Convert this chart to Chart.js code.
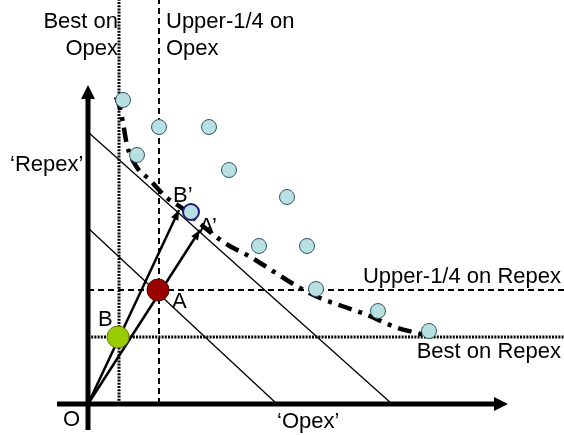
<!DOCTYPE html>
<html>
<head>
<meta charset="utf-8">
<script src="https://cdn.jsdelivr.net/npm/chart.js@4/dist/chart.umd.min.js"></script>
<style>
  html, body { margin: 0; padding: 0; background: #fff; }
  canvas { display: block; }
</style>
</head>
<body>
<canvas id="chart" width="564" height="435"></canvas>
<script>
// peer companies (opex, repex)
const peerOpex  = [35, 71, 121, 49, 141, 199, 171, 219, 228, 290, 341];
const peerRepex = [304, 277, 277, 249, 234, 207, 158, 158, 115, 93, 73];

// efficiency frontier (dash-dot curve)
const frontierOpex  = [28, 32, 35, 39, 48, 62, 78, 94, 108, 122, 140, 159, 177, 194, 212, 232, 254, 277, 307, 337];
const frontierRepex = [307, 296, 281, 259, 238, 224, 207, 196, 184, 172, 159, 149, 138, 127, 116, 106, 98, 90, 77, 69];

// companies A and B, and their projections
const pointA = [70, 114];
const pointB = [30, 67];
const pointBprime = [103, 192];
const arrowAprime = [112, 174];
const arrowBprime = [91, 194];

// benchmark levels
const bestOpex = 31, upperOpex = 71;
const bestRepex = 67, upperRepex = 114;

// iso-cost lines (intercepts on opex / repex axes)
const isoOpex  = [189, 304];
const isoRepex = [176, 272];

const toXY = (xs, ys) => xs.map((x, i) => ({ x: x, y: ys[i] }));

function lineSet(data, opts) {
  return Object.assign({
    type: 'line', data: data, showLine: true, fill: false,
    pointRadius: 0, borderColor: '#000', borderWidth: 1.3, tension: 0, clip: false, order: 5
  }, opts);
}

const font = '22px "Liberation Sans", Arial, sans-serif';
const labels = [
  { t: 'Best on', x: 118, y: 28, a: 'right' },
  { t: 'Opex', x: 118, y: 55, a: 'right' },
  { t: 'Upper-1/4 on', x: 166, y: 28, a: 'left' },
  { t: 'Opex', x: 166, y: 55, a: 'left' },
  { t: '\u2018Repex\u2019', x: 10, y: 171, a: 'left' },
  { t: 'B\u2019', x: 173, y: 202, a: 'left' },
  { t: 'A\u2019', x: 199, y: 233, a: 'left' },
  { t: 'A', x: 172, y: 308, a: 'left' },
  { t: 'B', x: 98, y: 326, a: 'left' },
  { t: 'O', x: 63, y: 426, a: 'left' },
  { t: '\u2018Opex\u2019', x: 277, y: 428, a: 'left' },
  { t: 'Upper-1/4 on Repex', x: 561, y: 283, a: 'right' },
  { t: 'Best on Repex', x: 561, y: 358, a: 'right' }
];

function arrowHead(ctx, x0, y0, x1, y1, len, half) {
  const ang = Math.atan2(y1 - y0, x1 - x0);
  ctx.beginPath();
  ctx.moveTo(x1, y1);
  ctx.lineTo(x1 - len * Math.cos(ang) + half * Math.sin(ang), y1 - len * Math.sin(ang) - half * Math.cos(ang));
  ctx.lineTo(x1 - len * Math.cos(ang) - half * Math.sin(ang), y1 - len * Math.sin(ang) + half * Math.cos(ang));
  ctx.closePath();
  ctx.fill();
}

const diagramPlugin = {
  id: 'diagram',
  afterDatasetsDraw(chart) {
    const ctx = chart.ctx;
    const px = v => chart.scales.x.getPixelForValue(v);
    const py = v => chart.scales.y.getPixelForValue(v);
    ctx.save();
    ctx.fillStyle = '#000';
    ctx.strokeStyle = '#000';

    // vector arrowheads
    arrowHead(ctx, px(0), py(0), px(arrowBprime[0]), py(arrowBprime[1]), 10, 4);
    arrowHead(ctx, px(0), py(0), px(arrowAprime[0]), py(arrowAprime[1]), 10, 4);

    // axes
    ctx.lineWidth = 5;
    ctx.beginPath();
    ctx.moveTo(px(-31), py(0));
    ctx.lineTo(px(420) - 12, py(0));
    ctx.moveTo(px(0), py(-26));
    ctx.lineTo(px(0), py(319) + 12);
    ctx.stroke();
    arrowHead(ctx, px(0), py(0), px(420), py(0), 14, 7);
    arrowHead(ctx, px(0), py(0), px(0), py(319), 14, 7);

    // labels
    ctx.font = font;
    ctx.textBaseline = 'alphabetic';
    labels.forEach(l => {
      ctx.textAlign = l.a;
      ctx.fillText(l.t, l.x, l.y);
    });
    ctx.restore();
  }
};

new Chart(document.getElementById('chart'), {
  type: 'scatter',
  data: {
    datasets: [
      lineSet([{ x: 0, y: isoRepex[0] }, { x: isoOpex[0], y: 0 }], {}),
      lineSet([{ x: 0, y: isoRepex[1] }, { x: isoOpex[1], y: 0 }], {}),
      lineSet([{ x: bestOpex, y: 0 }, { x: bestOpex, y: 404 }], { borderWidth: 3, borderDash: [2, 1.2] }),
      lineSet([{ x: upperOpex, y: 0 }, { x: upperOpex, y: 404 }], { borderWidth: 2, borderDash: [6, 4] }),
      lineSet([{ x: 0, y: bestRepex }, { x: 476, y: bestRepex }], { borderWidth: 3, borderDash: [2, 1.2] }),
      lineSet([{ x: 0, y: upperRepex }, { x: 476, y: upperRepex }], { borderWidth: 2, borderDash: [6, 4] }),
      lineSet([{ x: 0, y: 0 }, { x: arrowBprime[0], y: arrowBprime[1] }], { borderWidth: 2.5, order: 4 }),
      lineSet([{ x: 0, y: 0 }, { x: arrowAprime[0], y: arrowAprime[1] }], { borderWidth: 2.5, order: 4 }),
      lineSet(toXY(frontierOpex, frontierRepex), {
        borderWidth: 4.5, borderDash: [14, 7, 4, 7], cubicInterpolationMode: 'monotone', order: 3
      }),
      {
        label: 'Peers', data: toXY(peerOpex, peerRepex), pointRadius: 7.5,
        backgroundColor: '#b8dfe2', borderColor: '#2e5866', borderWidth: 1, clip: false, order: 1
      },
      {
        label: 'B\u2019', data: [{ x: pointBprime[0], y: pointBprime[1] }], pointRadius: 8,
        backgroundColor: '#b8dfe2', borderColor: '#1c1c78', borderWidth: 2, clip: false, order: 1
      },
      {
        label: 'A', data: [{ x: pointA[0], y: pointA[1] }], pointRadius: 11,
        backgroundColor: '#990000', borderColor: '#4a0000', borderWidth: 1, clip: false, order: 2
      },
      {
        label: 'B', data: [{ x: pointB[0], y: pointB[1] }], pointRadius: 11,
        backgroundColor: '#99cc00', borderColor: '#5e7d00', borderWidth: 1, clip: false, order: 2
      }
    ]
  },
  options: {
    responsive: false,
    animation: false,
    devicePixelRatio: 1,
    layout: { padding: { left: 88, right: 56, top: 85, bottom: 31 } },
    plugins: { legend: { display: false }, tooltip: { enabled: false } },
    scales: {
      x: { type: 'linear', min: 0, max: 420, display: false },
      y: { type: 'linear', min: 0, max: 319, display: false }
    }
  },
  plugins: [diagramPlugin]
});
</script>
</body>
</html>
